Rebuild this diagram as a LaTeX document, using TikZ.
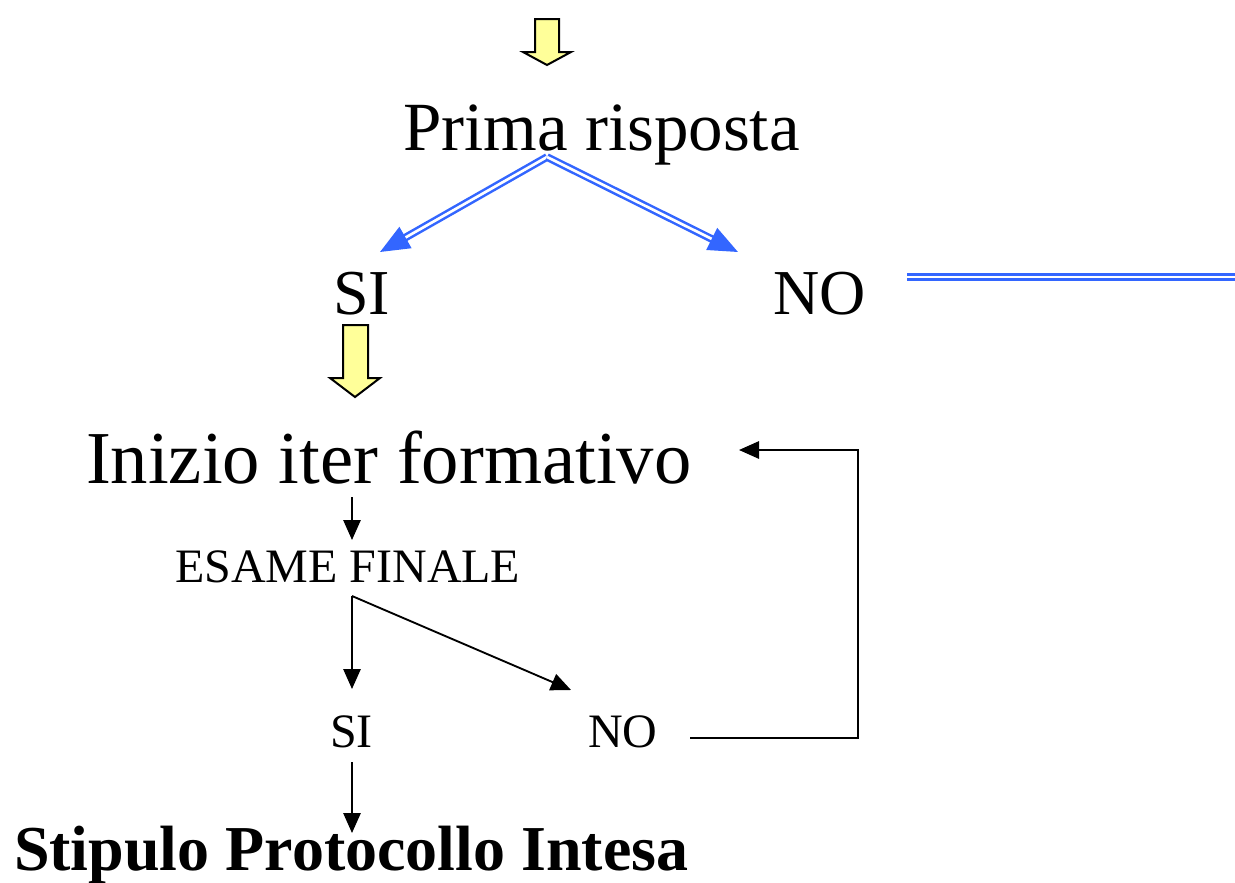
\documentclass[tikz,border=0pt]{standalone}
\usepackage{fontspec}
\setmainfont{Liberation Serif}
\usetikzlibrary{arrows.meta}
\definecolor{flowblue}{HTML}{3366FF}
\definecolor{padyellow}{HTML}{FFFF99}
\tikzset{
  lbl/.style={anchor=base west, inner sep=0pt, outer sep=0pt},
  sz/.style={font=\fontsize{#1}{#1}\selectfont},
  bluearrow/.style={draw=flowblue, double=white, line width=1.9pt, double distance=2pt,
     -{Triangle[length=22pt,width=18pt,fill=flowblue,color=flowblue]}},
  blueline/.style={draw=flowblue, double=white, line width=1.9pt, double distance=2pt},
  blackarrow/.style={draw=black, line width=1.4pt, -{Triangle[length=15pt,width=13pt]}},
  yellowarrow/.style={draw=black, line width=1.5pt, fill=padyellow, line join=miter},
}
\begin{document}
\begin{tikzpicture}[x=0.75pt,y=-0.75pt]
\useasboundingbox (0,0) rectangle (1235,882);

% yellow block arrows
\draw[yellowarrow] (535,19) -- (559,19) -- (559,52) -- (571,52) -- (547,65) -- (523,52) -- (535,52) -- cycle;
\draw[yellowarrow] (343,325) -- (368,325) -- (368,378) -- (380,378) -- (355,397) -- (330,378) -- (343,378) -- cycle;

% texts
\node[lbl, sz=51.75] (prima) at (403,150) {Prima risposta};
\node[lbl, sz=48] (si1) at (333,314) {SI};
\node[lbl, sz=48] (no1) at (773,314) {NO};
\node[lbl, sz=56] (inizio) at (86,483) {Inizio iter formativo};
\node[lbl, sz=36] (esame) at (175,582) {ESAME FINALE};
\node[lbl, sz=36] (si2) at (330,747) {SI};
\node[lbl, sz=36] (no2) at (588,747) {NO};
\node[lbl, font=\fontsize{48}{48}\selectfont\bfseries] (stip) at (14,870) {Stipulo Protocollo Intesa};

% connector points
\coordinate (apex) at (547,157);
\coordinate (si1tip) at (380,252);
\coordinate (no1tip) at (738,252);
\coordinate (noline0) at (907,277);
\coordinate (noline1) at (1235,277);
\coordinate (iniOut) at (352,497);
\coordinate (esIn) at (352,540);
\coordinate (esOut) at (352,596);
\coordinate (si2In) at (352,689);
\coordinate (no2In) at (571,690);
\coordinate (si2Out) at (352,762);
\coordinate (stipIn) at (352,833);
\coordinate (no2Out) at (690,738);
\coordinate (loopC1) at (858,738);
\coordinate (loopC2) at (858,450);
\coordinate (iniIn) at (739,450);

% blue connectors
\draw[bluearrow] (apex) -- (si1tip);
\draw[bluearrow] (apex) -- (no1tip);
\draw[blueline] (noline0) -- (noline1);

% black connectors
\draw[blackarrow] (iniOut) -- (esIn);
\draw[blackarrow] (esOut) -- (si2In);
\draw[blackarrow] (esOut) -- (no2In);
\draw[blackarrow] (si2Out) -- (stipIn);
\draw[blackarrow] (no2Out) -- (loopC1) -- (loopC2) -- (iniIn);
\end{tikzpicture}
\end{document}
